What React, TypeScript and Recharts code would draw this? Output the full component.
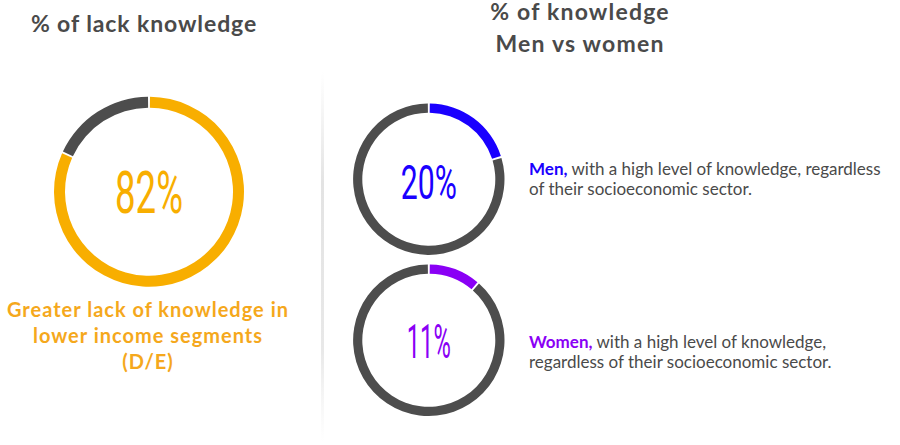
import React from 'react';
import { PieChart, Pie, Cell } from 'recharts';

// ---- data ----
const lackLabels = ['Lack of knowledge', 'Rest'];
const lackValues = [82, 18];
const menLabels = ['Men with high knowledge', 'Rest'];
const menValues = [20, 80];
const womenLabels = ['Women with high knowledge', 'Rest'];
const womenValues = [11, 89];

const ORANGE = '#F8AE00';
const CAPTION_ORANGE = '#F5A81C';
const BLUE = '#1A00FF';
const PURPLE = '#8A00F5';
const RING_GRAY = '#4D4D4D';
const TEXT_GRAY = '#4A4A4A';

const toData = (labels: string[], values: number[]) =>
  labels.map((name, i) => ({ name, value: values[i] }));

const lackData = toData(lackLabels, lackValues);
const menData = toData(menLabels, menValues);
const womenData = toData(womenLabels, womenValues);

const FONT = 'Lato, "Open Sans", sans-serif';

// ring layout
const L = { cx: 149, cy: 191.7, ir: 84, or: 95 };
const M = { cx: 428.8, cy: 179.2, ir: 66.5, or: 75.7 };
const W = { cx: 428.8, cy: 340.3, ir: 66.5, or: 75.7 };

const CenterText = ({ x, y, text, color, size, len }: any) => (
  <text
    x={x}
    y={y}
    textAnchor="middle"
    fill={color}
    fontFamily="Roboto, sans-serif"
    fontWeight={400}
    fontSize={size}
    textLength={len}
    lengthAdjust="spacingAndGlyphs"
  >
    {text}
  </text>
);

export default function App() {
  const padL = 1.2;
  const padR = 1.5;
  return (
    <div style={{ position: 'absolute', left: 0, top: 0, width: 900, height: 445, background: '#fff' }}>
      <PieChart width={900} height={445} margin={{ top: 0, right: 0, bottom: 0, left: 0 }}>
        <defs>
          <linearGradient id="sepGrad" x1="0" y1="0" x2="0" y2="1">
            <stop offset="0%" stopColor="#e6e6e6" stopOpacity={0} />
            <stop offset="30%" stopColor="#e3e3e3" stopOpacity={1} />
            <stop offset="75%" stopColor="#e8e8e8" stopOpacity={1} />
            <stop offset="100%" stopColor="#eeeeee" stopOpacity={0} />
          </linearGradient>
        </defs>
        <rect x={321} y={72} width={3} height={370} fill="url(#sepGrad)" />

        <Pie
          data={lackData}
          dataKey="value"
          nameKey="name"
          cx={L.cx}
          cy={L.cy}
          innerRadius={L.ir}
          outerRadius={L.or}
          startAngle={90 - padL / 2}
          endAngle={-270 - padL / 2}
          paddingAngle={padL}
          stroke="none"
          isAnimationActive={false}
        >
          <Cell fill={ORANGE} />
          <Cell fill={RING_GRAY} />
        </Pie>

        <Pie
          data={menData}
          dataKey="value"
          nameKey="name"
          cx={M.cx}
          cy={M.cy}
          innerRadius={M.ir}
          outerRadius={M.or}
          startAngle={90 - padR / 2}
          endAngle={-270 - padR / 2}
          paddingAngle={padR}
          stroke="none"
          isAnimationActive={false}
        >
          <Cell fill={BLUE} />
          <Cell fill={RING_GRAY} />
        </Pie>

        <Pie
          data={womenData}
          dataKey="value"
          nameKey="name"
          cx={W.cx}
          cy={W.cy}
          innerRadius={W.ir}
          outerRadius={W.or}
          startAngle={90 - padR / 2}
          endAngle={-270 - padR / 2}
          paddingAngle={padR}
          stroke="none"
          isAnimationActive={false}
        >
          <Cell fill={PURPLE} />
          <Cell fill={RING_GRAY} />
        </Pie>

        <CenterText x={L.cx} y={L.cy + 21.5} text={`${lackValues[0]}%`} color={ORANGE} size={60} len={68} />
        <CenterText x={M.cx} y={M.cy + 19.8} text={`${menValues[0]}%`} color={BLUE} size={48} len={56} />
        <CenterText x={W.cx} y={W.cy + 17.2} text={`${womenValues[0]}%`} color={PURPLE} size={49} len={44} />

        {/* titles */}
        <text x={144} y={31.5} textAnchor="middle" fill={TEXT_GRAY} fontFamily={FONT} fontWeight={700} fontSize={23} letterSpacing={0.9}>
          % of lack knowledge
        </text>
        <text x={580} y={20} textAnchor="middle" fill={TEXT_GRAY} fontFamily={FONT} fontWeight={700} fontSize={23} letterSpacing={1.2}>
          % of knowledge
        </text>
        <text x={580} y={51.5} textAnchor="middle" fill={TEXT_GRAY} fontFamily={FONT} fontWeight={700} fontSize={23} letterSpacing={1.2}>
          Men vs women
        </text>

        {/* caption left */}
        <g fontFamily={FONT} fontWeight={700} fontSize={20} fill={CAPTION_ORANGE} textAnchor="middle" letterSpacing={1}>
          <text x={148} y={316.5}>Greater lack of knowledge in</text>
          <text x={148} y={343}>lower income segments</text>
          <text x={148} y={369}>(D/E)</text>
        </g>

        {/* right descriptions */}
        <g fontFamily={FONT} fontSize={17} fill={TEXT_GRAY}>
          <text x={529} y={175}>
            <tspan fill={BLUE} fontWeight={700}>Men,</tspan>
            <tspan> with a high level of knowledge, regardless</tspan>
          </text>
          <text x={529} y={195}>of their socioeconomic sector.</text>
          <text x={529} y={347.5}>
            <tspan fill={PURPLE} fontWeight={700}>Women,</tspan>
            <tspan> with a high level of knowledge,</tspan>
          </text>
          <text x={529} y={368}>regardless of their socioeconomic sector.</text>
        </g>
      </PieChart>
    </div>
  );
}
